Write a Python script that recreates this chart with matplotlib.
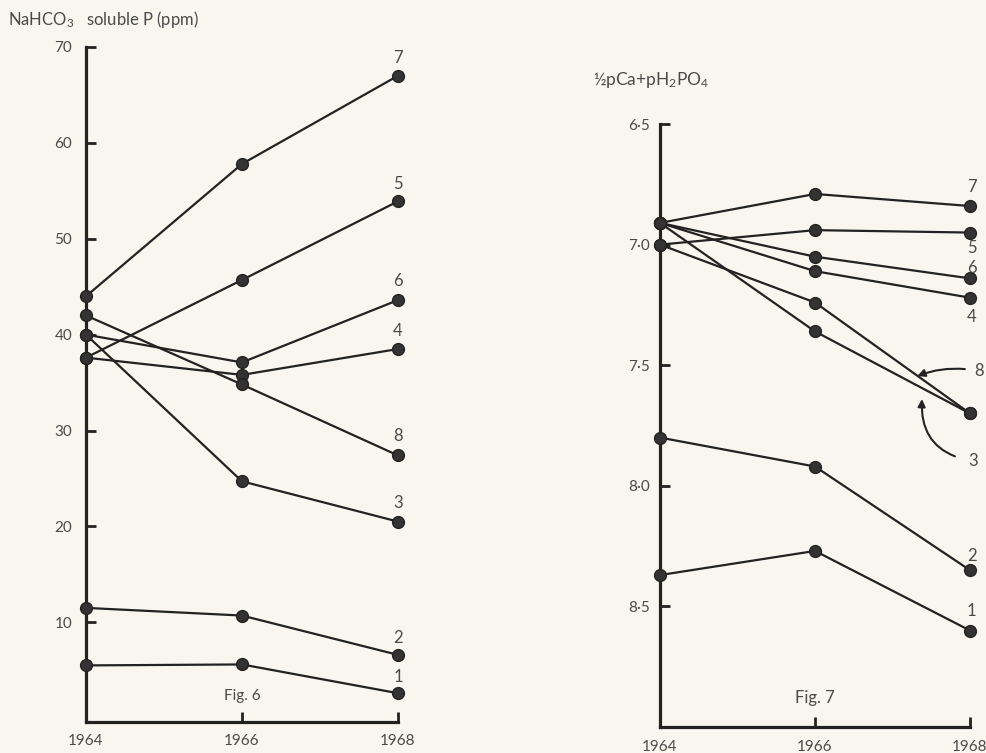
import matplotlib
matplotlib.use("Agg")
import matplotlib.pyplot as plt

plt.rcParams['font.family'] = ['Lato', 'DejaVu Sans']
plt.rcParams['mathtext.fontset'] = 'custom'
plt.rcParams['mathtext.rm'] = 'Lato'
plt.rcParams['mathtext.it'] = 'Lato:italic'

years = [1964, 1966, 1968]

# Fig. 6 : NaHCO3 soluble P (ppm)
fig6_labels = ["1", "2", "3", "4", "5", "6", "7", "8"]
fig6_1964 = [5.5, 11.5, 40.0, 37.6, 37.6, 40.0, 44.0, 42.0]
fig6_1966 = [5.6, 10.7, 24.7, 35.8, 45.7, 37.1, 57.8, 34.8]
fig6_1968 = [2.6, 6.6, 20.5, 38.5, 53.9, 43.6, 67.0, 27.4]
fig6_label_y = [4.3, 8.4, 22.4, 40.4, 55.7, 45.6, 68.9, 29.4]
fig6_yticks = [10, 20, 30, 40, 50, 60, 70]

# Fig. 7 : 1/2 pCa + pH2PO4
fig7_labels = ["1", "2", "3", "4", "5", "6", "7", "8"]
fig7_1964 = [8.37, 7.80, 6.91, 6.91, 7.00, 6.91, 6.91, 7.00]
fig7_1966 = [8.27, 7.92, 7.36, 7.11, 6.94, 7.05, 6.79, 7.24]
fig7_1968 = [8.60, 8.35, 7.70, 7.22, 6.95, 7.14, 6.84, 7.70]
fig7_label_y = [8.52, 8.29, None, 7.30, 7.015, 7.095, 6.76, None]
fig7_yticks = [6.5, 7.0, 7.5, 8.0, 8.5]
fig7_yticklabels = ["6·5", "7·0", "7·5", "8·0", "8·5"]

bg = "#f8f6ef"
ink = "#222222"
txt = "#4a4a4a"

fig = plt.figure(figsize=(9.86, 7.53), dpi=100, facecolor=bg)

ax1 = fig.add_axes([0.0872, 0.0412, 0.3164, 0.8964])
ax2 = fig.add_axes([0.6694, 0.0345, 0.3144, 0.8008])

for ax in (ax1, ax2):
    ax.set_facecolor(bg)
    for s in ("top", "right"):
        ax.spines[s].set_visible(False)
    for s in ("left", "bottom"):
        ax.spines[s].set_linewidth(2.3)
        ax.spines[s].set_color(ink)
    ax.set_xlim(1964, 1968)
    ax.set_xticks(years)
    ax.set_xticklabels([str(y) for y in years])
    ax.tick_params(axis='both', direction='in', length=7, width=2.0,
                   color=ink, labelcolor=txt, labelsize=11)
    ax.tick_params(axis='x', pad=9)
ax1.tick_params(axis='y', pad=10)
ax2.tick_params(axis='y', pad=7)

# ---- Fig 6 ----
ax1.set_ylim(-0.4, 70)
ax1.set_yticks(fig6_yticks)
ax1.set_yticklabels([str(v) for v in fig6_yticks])
for i, lab in enumerate(fig6_labels):
    vals = [fig6_1964[i], fig6_1966[i], fig6_1968[i]]
    ax1.plot(years, vals, color=ink, lw=1.6, marker='o', ms=8.5,
             mfc="#333333", mec=ink, clip_on=False, zorder=3)
    ax1.text(1968, fig6_label_y[i], lab, ha='center', va='center',
             fontsize=12, color=txt)
ax1.text(1966, 2.3, "Fig. 6", ha='center', va='center', fontsize=11, color=txt)

# ---- Fig 7 ----
ax2.set_ylim(9.0, 6.5)
ax2.set_yticks(fig7_yticks)
ax2.set_yticklabels(fig7_yticklabels)
for i, lab in enumerate(fig7_labels):
    vals = [fig7_1964[i], fig7_1966[i], fig7_1968[i]]
    ax2.plot(years, vals, color=ink, lw=1.6, marker='o', ms=8.5,
             mfc="#333333", mec=ink, clip_on=False, zorder=3)
    if fig7_label_y[i] is not None:
        ax2.text(1968.02, fig7_label_y[i], lab, ha='center', va='center',
                 fontsize=12, color=txt, clip_on=False)
ax2.annotate("8", xy=(1967.32, 7.545), xytext=(1968.12, 7.525),
             ha='center', va='center', fontsize=12, color=txt,
             arrowprops=dict(arrowstyle='-|>', color=ink, lw=1.5,
                             connectionstyle='arc3,rad=0.15',
                             shrinkA=5, shrinkB=0, mutation_scale=11),
             annotation_clip=False)
ax2.annotate("3", xy=(1967.38, 7.64), xytext=(1968.04, 7.897),
             ha='center', va='center', fontsize=12, color=txt,
             arrowprops=dict(arrowstyle='-|>', color=ink, lw=1.5,
                             connectionstyle='arc3,rad=-0.45',
                             shrinkA=8, shrinkB=0, mutation_scale=11),
             annotation_clip=False)
ax2.text(1966, 8.88, "Fig. 7", ha='center', va='center', fontsize=12, color=txt)

fig.text(8/986, 1 - 20/753, r"NaHCO$_\mathrm{3}$   soluble P (ppm)",
         ha='left', va='center', fontsize=12, color=txt)
fig.text(593/986, 1 - 80/753, r"½pCa$+$pH$_\mathrm{2}$PO$_\mathrm{4}$",
         ha='left', va='center', fontsize=12.5, color=txt)

fig.savefig("out.png", dpi=100, facecolor=bg)
